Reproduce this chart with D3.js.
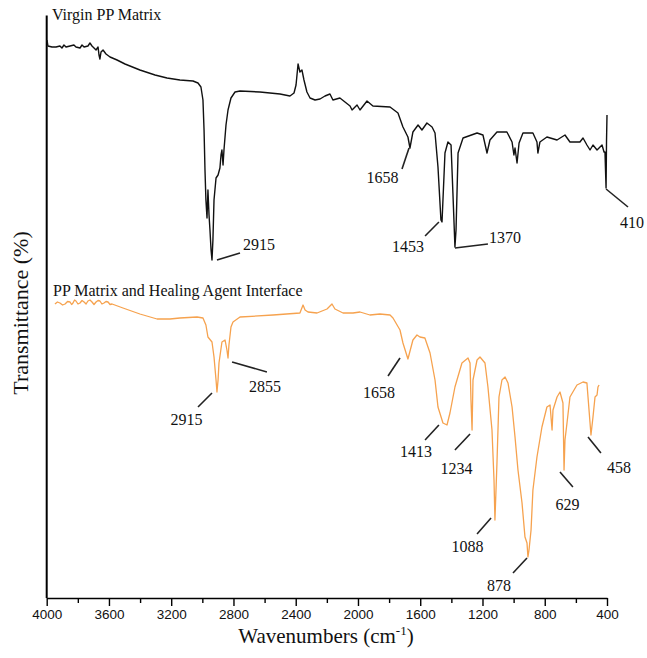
<!DOCTYPE html>
<html><head><meta charset="utf-8">
<script src="https://cdn.jsdelivr.net/npm/d3@7"></script>
<style>body{margin:0;background:#fff}svg{display:block}</style>
</head><body>
<script>
// Wavenumber (cm-1) and relative transmittance
const virginWavenumber = [3998,3992,3966,3940,3915,3902,3889,3876,3850,3825,3812,3786,3773,3760,3735,3722,3709,3696,3683,3670,3664,3658,3651,3638,3619,3593,3548,3497,3401,3304,3227,3144,3060,3028,3009,2996,2989,2983,2977,2970,2964,2957,2951,2944,2938,2932,2925,2912,2899,2887,2880,2874,2867,2861,2848,2835,2816,2790,2758,2630,2501,2437,2411,2398,2385,2373,2360,2347,2328,2308,2276,2244,2212,2180,2161,2116,2051,2038,2006,1987,1942,1904,1794,1743,1711,1679,1666,1647,1614,1589,1557,1524,1505,1486,1467,1460,1441,1422,1402,1390,1377,1370,1357,1325,1235,1197,1171,1152,1107,1043,1010,998,991,978,965,940,876,850,844,831,786,721,670,638,574,554,529,509,490,464,432,419,413,406,403,400];
const virginT = [111.6,110.4,110.2,110.2,110.4,110,110.6,110.2,110.4,110.6,110.2,110,110.6,110.2,110.4,111,110.4,110,109.6,110.2,108.6,107.8,109.2,109.6,108.8,108.2,107.6,106.8,105.6,104.6,104,103.6,103.4,103,102.2,99.6,93.6,85.6,79.6,76,81.6,76.6,73.6,69.6,67.6,71.6,79.6,84,84.6,86,88.6,89.6,86.6,89.6,94.6,97.6,100,101.2,101.4,101.2,100.8,100.4,101,102.6,106.8,105.2,105.6,103.6,101.2,100,99.6,99.8,100.4,100.8,99.6,100,98.4,97.6,98.6,97.6,99.4,98.4,98.2,97,94.2,92.2,90,93.2,94.6,93.6,95,94.2,93,86.2,75.6,75.2,89,91.2,90.6,81,70.2,73.6,89,92,93,92.6,89,91.6,93.2,93.2,91.2,88.6,90,87,91,93,93,91.2,89,91.2,92.2,91.6,92.6,91.2,91.2,92,90.6,89.6,90.6,89.6,90.6,89.2,89.2,82,91.6,96.6];

const blendWavenumber = [3947,3931,3915,3898,3882,3866,3850,3840,3831,3821,3812,3799,3786,3773,3760,3747,3735,3722,3709,3696,3683,3670,3658,3645,3632,3619,3606,3593,3580,3510,3401,3291,3208,3144,3034,2996,2977,2964,2938,2925,2912,2906,2899,2893,2874,2854,2842,2835,2829,2816,2803,2758,2546,2373,2353,2340,2321,2263,2199,2167,2148,2096,2032,1987,1923,1859,1794,1775,1730,1711,1679,1647,1621,1602,1570,1537,1505,1486,1454,1428,1409,1377,1332,1293,1280,1274,1267,1261,1235,1216,1184,1165,1139,1126,1120,1107,1094,1075,1055,1036,1010,991,972,946,927,914,908,901,888,876,850,818,786,766,753,747,721,702,683,676,670,657,638,593,554,529,522,503,490,477,464,458,451];
const blendT = [58.8,59.2,59,58.6,58.8,59.3,59.2,58.7,59,59.6,59.4,58.8,59,59.5,59.2,58.8,59.4,59.6,59.2,58.7,59.2,59.5,59.4,58.8,59,59.3,59.2,58.7,58.8,58,56.8,55.8,55.8,56,56.2,56,54.6,52.2,51.2,48.2,43.6,41.2,43.6,47,51.2,51.6,49.6,48,50.6,54.2,55.2,56.2,56.6,57,58.6,57.6,57.2,57,57.8,58.8,57.8,57,57,57.2,56.6,56.8,56.6,56,53.6,51,47.8,51.6,52.6,52.2,52,49,43.6,38.2,35,34.6,37,42.2,47,48,47,39.6,33.6,43.6,47.6,48.2,47,42.2,33.6,23.6,15.6,27,40.2,43.6,44.2,43,38.2,32.2,25.6,19,12.2,11,8.2,9.6,13.6,21.6,28.2,34.2,38.2,38.6,33.6,37.6,40.2,41.2,39,25.6,31.6,35,40.2,42.6,43.2,43,40.2,32.6,36.2,40.2,40.6,42.2,42.6];

const xTickValues = [4000,3600,3200,2800,2400,2000,1600,1200,800,400];
const xMinorTicks = [3800,3400,3000,2600,2200,1800,1400,1000,600];

const seriesNames = ["Virgin PP Matrix","PP Matrix and Healing Agent Interface"];
const seriesColors = ["#111111","#f6a24e"];

// Peak annotations: label, leader start (w,T), leader end (w,T), text anchor (w,T)
const virginPeaks = [
  ["2915",[2906,67.6],[2758,69],[2739,69.6],"start"],
  ["1658",[1717,85.8],[1672,90],[1843,83],"middle"],
  ["1453",[1569,72.4],[1480,75.2],[1679,69.2],"middle"],
  ["1370",[1377,70],[1165,70.8],[1158,71],"start"],
  ["410",[406,81.8],[265,78.2],[317,74],"start"]
];
const blendPeaks = [
  ["2915",[3028,38.2],[2938,41],[3102,34.6],"middle"],
  ["2855",[2809,47.2],[2585,45.2],[2597,41.2],"middle"],
  ["1658",[1807,44.4],[1730,48],[1865,40],"middle"],
  ["1413",[1569,31.6],[1480,34.6],[1627,28.2],"middle"],
  ["1234",[1377,29.6],[1280,32.8],[1367,24.8],"middle"],
  ["1088",[1235,12.8],[1145,16],[1296,9.2],"middle"],
  ["878",[1004,5],[914,8],[1094,1.4],"middle"],
  ["629",[702,25.2],[619,22.2],[654,17.6],"middle"],
  ["458",[522,32.2],[439,29],[323,25],"middle"]
];

const W = 647, H = 658;
const svg = d3.select("body").append("svg").attr("width", W).attr("height", H);

const x = d3.scaleLinear().domain([4000, 400]).range([46.7, 607]);
const y = d3.scaleLinear().domain([0, 116]).range([598, 18]);

const serif = "'Liberation Serif','Times New Roman',serif";
const sans = "'Liberation Sans',Arial,sans-serif";

// axes
const xAxis = d3.axisBottom(x).tickValues(xTickValues).tickSize(8).tickSizeOuter(0).tickFormat(d3.format("d"));
const gx = svg.append("g").attr("transform", `translate(0,${y(0)})`).call(xAxis);
gx.select(".domain").attr("stroke", "#000").attr("stroke-width", 1.6);
gx.selectAll(".tick line").attr("stroke", "#000").attr("stroke-width", 1.4);
gx.selectAll(".tick text").attr("font-family", sans).attr("font-size", 13.5).attr("fill", "#111").attr("dy", "1.05em").attr("y", 7);
const gxm = svg.append("g").attr("transform", `translate(0,${y(0)})`)
  .call(d3.axisBottom(x).tickValues(xMinorTicks).tickSize(5).tickFormat(""));
gxm.select(".domain").remove();
gxm.selectAll(".tick line").attr("stroke", "#000").attr("stroke-width", 1.4);

svg.append("line").attr("x1", x(4000)).attr("x2", x(4000)).attr("y1", y(116.5)).attr("y2", y(0))
  .attr("stroke", "#000").attr("stroke-width", 2);

// spectra
const line = d3.line().x(d => x(d[0])).y(d => y(d[1]));
svg.append("path").datum(d3.zip(blendWavenumber, blendT)).attr("d", line)
  .attr("fill", "none").attr("stroke", seriesColors[1]).attr("stroke-width", 1.3).attr("stroke-linejoin", "round");
svg.append("path").datum(d3.zip(virginWavenumber, virginT)).attr("d", line)
  .attr("fill", "none").attr("stroke", seriesColors[0]).attr("stroke-width", 1.4).attr("stroke-linejoin", "round");

// annotations
function annotate(peaks) {
  peaks.forEach(p => {
    svg.append("line").attr("x1", x(p[1][0])).attr("y1", y(p[1][1])).attr("x2", x(p[2][0])).attr("y2", y(p[2][1]))
      .attr("stroke", "#222").attr("stroke-width", 1.6);
    svg.append("text").attr("x", x(p[3][0])).attr("y", y(p[3][1])).attr("text-anchor", p[4])
      .attr("font-family", serif).attr("font-size", 16).attr("fill", "#111").text(p[0]);
  });
}
annotate(virginPeaks);
annotate(blendPeaks);

// series titles
svg.append("text").attr("x", 52).attr("y", 20).attr("font-family", serif).attr("font-size", 16).attr("fill", "#111").text(seriesNames[0]);
svg.append("text").attr("x", 53).attr("y", 296).attr("font-family", serif).attr("font-size", 16).attr("fill", "#111").text(seriesNames[1]);

// axis titles
svg.append("text").attr("transform", "translate(28,313) rotate(-90)").attr("text-anchor", "middle")
  .attr("font-family", serif).attr("font-size", 22).attr("fill", "#111").text("Transmittance (%)");
const xt = svg.append("text").attr("x", 326).attr("y", 643).attr("text-anchor", "middle")
  .attr("font-family", serif).attr("font-size", 21).attr("fill", "#111");
xt.append("tspan").text("Wavenumbers (cm");
xt.append("tspan").attr("font-size", 13).attr("dy", -8).text("-1");
xt.append("tspan").attr("dy", 8).text(")");
</script>
</body></html>
